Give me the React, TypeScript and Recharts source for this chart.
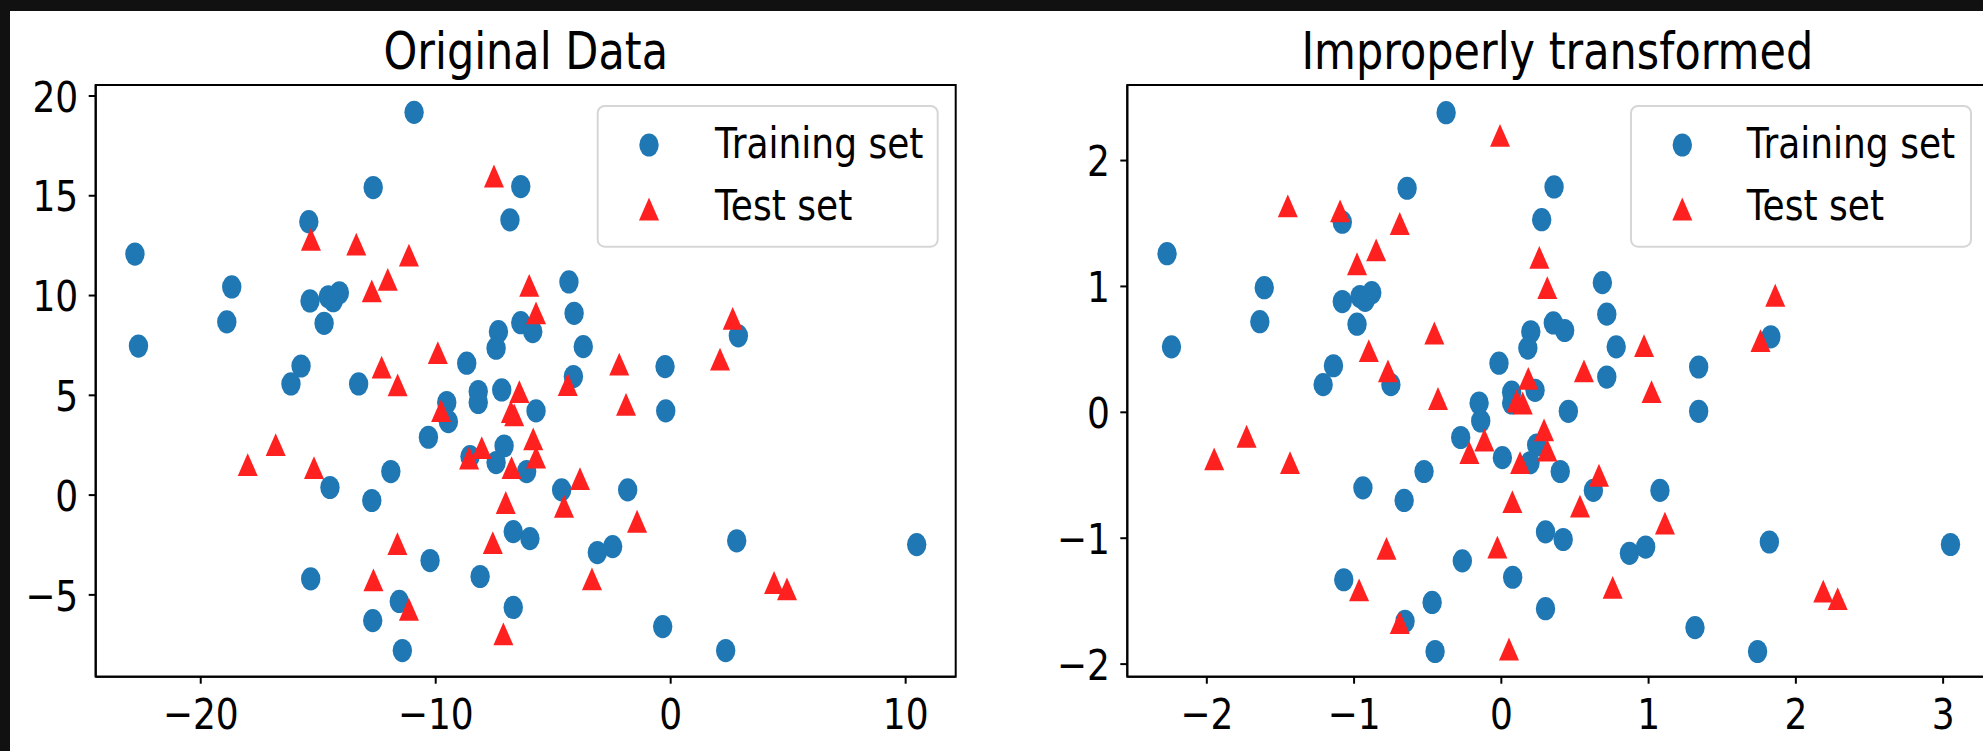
import React from 'react';
import { ScatterChart, Scatter, XAxis, YAxis } from 'recharts';

// ---------- data ----------
const trainOriginal: [number, number][] = [
  [-10.92, 19.18], [-12.66, 15.41], [-6.38, 15.46], [-15.4, 13.7], [-6.84, 13.79],
  [-22.8, 12.08], [-18.68, 10.43], [-4.33, 10.68], [-15.35, 9.73], [-14.57, 9.94],
  [-14.36, 9.74], [-14.1, 10.14], [-18.89, 8.68], [-14.75, 8.61], [-22.65, 7.47],
  [-4.11, 9.11], [-6.38, 8.64], [-5.87, 8.19], [-7.33, 8.19], [-7.43, 7.36],
  [-3.72, 7.44], [-15.73, 6.47], [-16.16, 5.57], [-13.28, 5.57], [-8.68, 6.61],
  [-0.24, 6.44], [2.88, 7.98], [-4.14, 5.94], [-7.19, 5.27], [-9.53, 4.64],
  [-9.46, 3.68], [-8.19, 5.19], [-8.19, 4.64], [-5.73, 4.22], [-0.21, 4.22],
  [-10.31, 2.9], [-8.54, 1.93], [-7.09, 2.46], [-7.43, 1.63], [-6.13, 1.18],
  [-11.91, 1.18], [-14.5, 0.38], [-12.72, -0.27], [-4.64, 0.26], [-1.83, 0.26],
  [-6.7, -1.83], [-5.99, -2.18], [-3.12, -2.88], [-2.47, -2.58], [2.81, -2.29],
  [10.47, -2.48], [-10.24, -3.28], [-15.32, -4.2], [-8.11, -4.08], [-11.55, -5.33],
  [-12.68, -6.29], [-11.42, -7.79], [-6.7, -5.63], [-0.34, -6.59], [2.34, -7.79],
];

const testOriginal: [number, number][] = [
  [-15.31, 12.82], [-13.38, 12.58], [-11.14, 12.03], [-12.04, 10.81], [-12.72, 10.23],
  [-7.52, 15.99], [-9.91, 7.14], [-12.3, 6.41], [-11.62, 5.52], [-6.02, 10.51],
  [-5.73, 9.13], [2.64, 8.86], [2.1, 6.81], [-2.19, 6.56], [-4.38, 5.54],
  [-9.77, 4.23], [-6.44, 5.19], [-6.8, 4.18], [-6.66, 4.02], [-8.04, 2.38],
  [-8.58, 1.86], [-6.77, 1.38], [-16.81, 2.53], [-18.0, 1.53], [-15.18, 1.38],
  [-7.02, -0.37], [-11.63, -2.43], [-7.57, -2.38], [-12.65, -4.25], [-11.14, -5.72],
  [-7.12, -6.95], [-1.9, 4.55], [-5.85, 2.82], [-5.73, 1.9], [-3.86, 0.83],
  [-4.54, -0.56], [-1.43, -1.31], [-3.35, -4.2], [4.4, -4.38], [4.95, -4.7],
];

const trainScaled: [number, number][] = [
  [-0.375, 2.38], [-0.64, 1.78], [0.358, 1.79], [-1.08, 1.51], [0.274, 1.53],
  [-2.27, 1.26], [-1.61, 0.99], [0.686, 1.03], [-1.08, 0.88], [-0.96, 0.92],
  [-0.925, 0.89], [-0.88, 0.95], [-1.64, 0.72], [-0.98, 0.7], [-2.24, 0.52],
  [0.716, 0.78], [0.353, 0.71], [0.43, 0.65], [0.2, 0.64], [0.18, 0.51],
  [0.78, 0.52], [-1.14, 0.37], [-1.21, 0.22], [-0.75, 0.22], [-0.016, 0.39],
  [1.34, 0.36], [1.83, 0.6], [0.716, 0.28], [0.229, 0.175], [-0.151, 0.074],
  [-0.14, -0.069], [0.07, 0.16], [0.07, 0.074], [0.455, 0.008], [1.34, 0.008],
  [-0.276, -0.2], [0.007, -0.36], [0.24, -0.26], [0.195, -0.4], [0.4, -0.47],
  [-0.525, -0.47], [-0.94, -0.6], [-0.66, -0.7], [0.625, -0.62], [1.077, -0.62],
  [0.3, -0.95], [0.42, -1.01], [0.87, -1.12], [0.98, -1.07], [1.82, -1.03],
  [3.05, -1.05], [-0.265, -1.18], [-1.07, -1.33], [0.077, -1.31], [-0.47, -1.51],
  [-0.654, -1.66], [-0.45, -1.9], [0.3, -1.56], [1.315, -1.71], [1.74, -1.9],
];

const testScaled: [number, number][] = [
  [-1.45, 1.64], [-1.095, 1.6], [-0.69, 1.5], [-0.85, 1.29], [-0.98, 1.18],
  [-0.009, 2.2], [-0.455, 0.63], [-0.9, 0.49], [-0.77, 0.33], [0.258, 1.23],
  [0.312, 0.99], [1.86, 0.93], [1.76, 0.57], [0.969, 0.53], [0.561, 0.33],
  [-0.43, 0.11], [0.183, 0.27], [0.104, 0.09], [0.145, 0.074], [-0.115, -0.22],
  [-0.217, -0.32], [0.127, -0.4], [-1.73, -0.19], [-1.95, -0.37], [-1.435, -0.4],
  [0.075, -0.71], [-0.78, -1.08], [-0.027, -1.07], [-0.966, -1.41], [-0.69, -1.67],
  [0.052, -1.88], [1.02, 0.165], [0.29, -0.14], [0.312, -0.3], [0.663, -0.5],
  [0.534, -0.745], [1.111, -0.88], [0.756, -1.39], [2.186, -1.42], [2.284, -1.48],
];

const origXTicks = [-20, -10, 0, 10];
const origYTicks = [-5, 0, 5, 10, 15, 20];
const scaledXTicks = [-2, -1, 0, 1, 2, 3];
const scaledYTicks = [-2, -1, 0, 1, 2];

const titles = ['Original Data', 'Improperly transformed'];
const legendLabels = ['Training set', 'Test set'];

// ---------- style ----------
const BLUE = '#1f77b4';
const RED = '#ff2020';
const FONT = '"DejaVu Sans", sans-serif';
const S = 1.2; // vertical stretch of the reference image
const TICK_FS = 36;
const RX = 9.7;
const RY = 11.6;
const TW = 10;
const TH = 11.4;

const fmt = (v: number) => (v < 0 ? '\u2212' + Math.abs(v) : String(v));

const XTick = (p: any) => (
  <g transform={`translate(${p.x},${p.y}) scale(1,${S})`}>
    <text x={0} y={38} textAnchor="middle" fontFamily={FONT} fontSize={TICK_FS} fill="#000">
      {fmt(p.payload.value)}
    </text>
  </g>
);

const YTick = (p: any) => (
  <g transform={`translate(${p.x},${p.y}) scale(1,${S})`}>
    <text x={-10.5} y={13.1} textAnchor="end" fontFamily={FONT} fontSize={TICK_FS} fill="#000">
      {fmt(p.payload.value)}
    </text>
  </g>
);

const circleShape = (p: any) => <ellipse cx={p.cx} cy={p.cy} rx={RX} ry={RY} fill={BLUE} />;
const triShape = (p: any) => (
  <path
    d={`M${p.cx},${p.cy - TH} L${p.cx + TW},${p.cy + TH} L${p.cx - TW},${p.cy + TH} Z`}
    fill={RED}
  />
);

const toPts = (arr: [number, number][]) => arr.map(([x, y]) => ({ x, y }));

const line = { stroke: '#000', strokeWidth: 2 };

interface PanelProps {
  left: number;
  mLeft: number;
  mRight: number;
  train: [number, number][];
  test: [number, number][];
  xDomain: [number, number];
  yDomain: [number, number];
  xTicks: number[];
  yTicks: number[];
}

const Panel = ({ left, mLeft, mRight, train, test, xDomain, yDomain, xTicks, yTicks }: PanelProps) => (
  <div style={{ position: 'absolute', left, top: 0 }}>
    <ScatterChart width={1000} height={751} margin={{ top: 85, right: mRight, bottom: 34.3, left: mLeft }}>
      <XAxis
        dataKey="x"
        type="number"
        domain={xDomain}
        ticks={xTicks}
        interval={0}
        allowDataOverflow
        height={40}
        tickSize={7}
        tickMargin={0}
        tick={(p: any) => <XTick {...p} />}
        tickLine={line}
        axisLine={line}
      />
      <YAxis
        dataKey="y"
        type="number"
        domain={yDomain}
        ticks={yTicks}
        interval={0}
        allowDataOverflow
        width={60}
        tickSize={7}
        tickMargin={0}
        tick={(p: any) => <YTick {...p} />}
        tickLine={line}
        axisLine={line}
      />
      <Scatter data={toPts(train)} shape={circleShape} isAnimationActive={false} />
      <Scatter data={toPts(test)} shape={triShape} isAnimationActive={false} />
    </ScatterChart>
  </div>
);

const LegendBox = ({ x, mx, tx }: { x: number; mx: number; tx: number }) => (
  <g>
    <rect x={x} y={106} width={340} height={140.7} rx={7} ry={7} fill="#fff" fillOpacity={0.8} stroke="#d6d6d6" strokeWidth={2} />
    <ellipse cx={mx} cy={145} rx={RX} ry={RY} fill={BLUE} />
    <path d={`M${mx},${209 - TH} L${mx + TW},${209 + TH} L${mx - TW},${209 + TH} Z`} fill={RED} />
    <g transform={`translate(${tx},158.3) scale(1,${S})`}>
      <text x={0} y={0} fontFamily={FONT} fontSize={36} fill="#000">{legendLabels[0]}</text>
    </g>
    <g transform={`translate(${tx},220.3) scale(1,${S})`}>
      <text x={0} y={0} fontFamily={FONT} fontSize={36} fill="#000">{legendLabels[1]}</text>
    </g>
  </g>
);

export default function App() {
  return (
    <div style={{ position: 'absolute', left: 0, top: 0, width: 1983, height: 751, background: '#111', overflow: 'hidden' }}>
      <div style={{ position: 'absolute', left: 10, top: 11, width: 1973, height: 740, background: '#fff' }} />
      <Panel
        left={0}
        mLeft={35.7}
        mRight={44.3}
        train={trainOriginal}
        test={testOriginal}
        xDomain={[-24.47, 12.13]}
        yDomain={[-9.1, 20.55]}
        xTicks={origXTicks}
        yTicks={origYTicks}
      />
      <Panel
        left={1000}
        mLeft={67.3}
        mRight={12.7}
        train={trainScaled}
        test={testScaled}
        xDomain={[-2.54, 3.3]}
        yDomain={[-2.1, 2.6]}
        xTicks={scaledXTicks}
        yTicks={scaledYTicks}
      />
      <svg width={1983} height={751} style={{ position: 'absolute', left: 0, top: 0, pointerEvents: 'none' }}>
        <rect x={95.7} y={85} width={860} height={591.7} fill="none" stroke="#000" strokeWidth={2} />
        <rect x={1127.3} y={85} width={860} height={591.7} fill="none" stroke="#000" strokeWidth={2} />
        <g transform={`translate(525.7,69) scale(1,${S})`}>
          <text x={0} y={0} textAnchor="middle" fontFamily={FONT} fontSize={43} fill="#000">{titles[0]}</text>
        </g>
        <g transform={`translate(1557.3,69) scale(1,${S})`}>
          <text x={0} y={0} textAnchor="middle" fontFamily={FONT} fontSize={43} fill="#000">{titles[1]}</text>
        </g>
        <LegendBox x={597.7} mx={649} tx={715} />
        <LegendBox x={1631} mx={1682.3} tx={1746.7} />
      </svg>
    </div>
  );
}
